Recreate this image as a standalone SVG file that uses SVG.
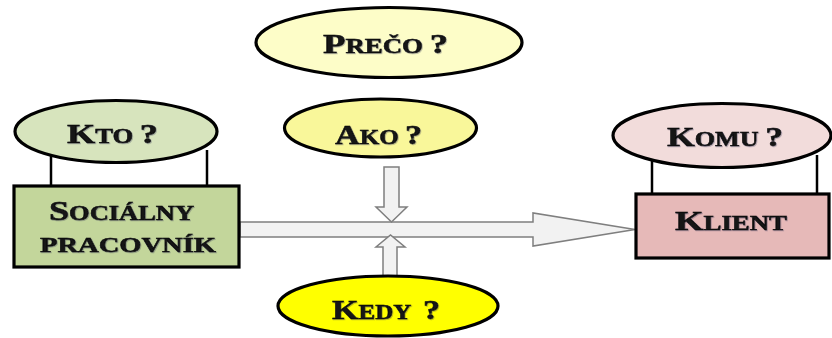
<svg xmlns="http://www.w3.org/2000/svg" width="832" height="338" viewBox="0 0 832 338">
  <defs>
    <filter id="txtShadow" x="-10%" y="-30%" width="120%" height="160%">
      <feDropShadow dx="0.8" dy="0.8" stdDeviation="0.5" flood-color="#303050" flood-opacity="0.4"/>
    </filter>
  </defs>
  <style>
    .lbl { font-family: "Liberation Serif", "Times New Roman", serif; font-weight: bold; font-size: 28px; fill: #121212; stroke: #121212; stroke-width: 0.5; filter: url(#txtShadow); }
    .sc { font-size: 20.5px; }
    .shape { stroke: #000; stroke-width: 3.2; }
    .tie { stroke: #000; stroke-width: 2.5; }
    .flow { fill: #f2f2f2; stroke: #7f7f7f; stroke-width: 1.5; stroke-linejoin: miter; }
  </style>
  <rect width="832" height="338" fill="#ffffff"/>

  <!-- connectors: block arrows -->
  <g id="connectors">
    <polygon class="flow" points="240,222 533,222 533,213 635,229.5 533,246 533,237 240,237"/>
    <polygon class="flow" points="384,167 399,167 399,207 407,207 391.5,222 376,207 384,207"/>
    <polygon class="flow" points="383,282 397,282 397,247 405,247 390.5,235 376,247 383,247"/>
  </g>

  <!-- social worker with "who" bubble -->
  <g id="kto">
    <line class="tie" x1="51" y1="150" x2="51" y2="186"/>
    <line class="tie" x1="207" y1="150" x2="207" y2="186"/>
    <ellipse class="shape" cx="116" cy="131.5" rx="101" ry="31" fill="#d7e4bd"/>
    <text class="lbl" x="67" y="143" textLength="91" lengthAdjust="spacingAndGlyphs">K<tspan class="sc">TO </tspan>?</text>
  </g>
  <g id="socialny-pracovnik">
    <rect class="shape" x="14" y="186" width="225" height="81" fill="#c3d69b"/>
    <text class="lbl" x="49" y="220" textLength="145" lengthAdjust="spacingAndGlyphs">S<tspan class="sc">OCIÁLNY</tspan></text>
    <text class="lbl" x="40" y="252" textLength="176" lengthAdjust="spacingAndGlyphs"><tspan class="sc">PRACOVNÍK</tspan></text>
  </g>

  <g id="preco">
    <ellipse class="shape" cx="389" cy="42.5" rx="133" ry="35" fill="#fdfdc8"/>
    <text class="lbl" x="323" y="53" textLength="125" lengthAdjust="spacingAndGlyphs">P<tspan class="sc">REČO </tspan>?</text>
  </g>

  <g id="ako">
    <ellipse class="shape" cx="380.5" cy="128" rx="96" ry="29" fill="#f9f79a"/>
    <text class="lbl" x="335" y="144" textLength="87" lengthAdjust="spacingAndGlyphs">A<tspan class="sc">KO </tspan>?</text>
  </g>

  <g id="kedy">
    <ellipse class="shape" cx="388" cy="306" rx="110" ry="30" fill="#ffff00"/>
    <text class="lbl" x="332" y="319" textLength="108" lengthAdjust="spacingAndGlyphs" xml:space="preserve">K<tspan class="sc">EDY  </tspan>?</text>
  </g>

  <!-- client with "whom" bubble -->
  <g id="komu">
    <line class="tie" x1="652" y1="155" x2="652" y2="194"/>
    <line class="tie" x1="817" y1="155" x2="817" y2="194"/>
    <ellipse class="shape" cx="722" cy="135.5" rx="109" ry="32" fill="#f2dcdb"/>
    <text class="lbl" x="667" y="146" textLength="116" lengthAdjust="spacingAndGlyphs">K<tspan class="sc">OMU </tspan>?</text>
  </g>
  <g id="klient">
    <rect class="shape" x="636" y="194" width="193" height="64" fill="#e6b9b8"/>
    <text class="lbl" x="675" y="230" textLength="112" lengthAdjust="spacingAndGlyphs">K<tspan class="sc">LIENT</tspan></text>
  </g>
</svg>
